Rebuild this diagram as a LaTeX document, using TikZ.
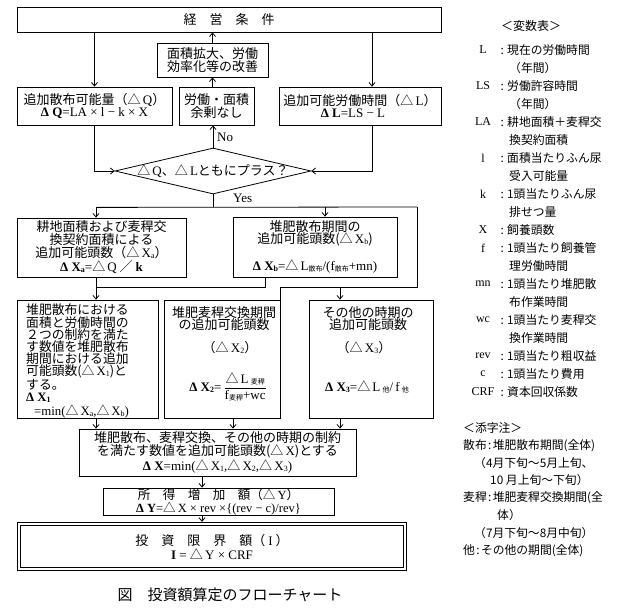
\documentclass[tikz,border=0pt]{standalone}
\usepackage{fontspec}
\setmainfont{Noto Sans CJK JP}
\newfontfamily\se{Liberation Serif}
\usetikzlibrary{arrows.meta,shapes.geometric}
\newcommand\sbx[1]{\raisebox{-1pt}{\fontsize{8}{8}\selectfont #1}}
\newcommand\sbj[1]{\raisebox{-1pt}{\fontsize{7}{7}\selectfont\rmfamily #1}}
\newcommand\tri{{\rmfamily △}}
\newcommand\col{\makebox[10pt][c]{:}}
\newcommand\scol{\makebox[6pt][c]{:}}
\tikzset{
 every node/.style={inner sep=0pt},
 box/.style={draw,line width=0.8pt,align=center,font=\fontsize{13}{12.5}\selectfont},
 dia/.style={draw,line width=0.8pt,diamond,minimum width=196pt,minimum height=46pt},
 con/.style={line width=0.8pt},
 arr/.style={line width=0.8pt,-{Straight Barb[length=3.5pt,width=6pt]}},
 txt/.style={font=\fontsize{13}{12.5}\selectfont,align=center},
 leg/.style={anchor=west,font=\fontsize{11.8}{12}\selectfont},
 lab/.style={font=\fontsize{12}{12}\selectfont\se},
}
\begin{document}
\begin{tikzpicture}[x=1pt,y=-1pt]
\useasboundingbox (0,0) rectangle (620,607);
% boxes
\node[box,minimum width=424pt,minimum height=25pt] (top) at (229,19.5) {経　営　条　件};
\node[box,minimum width=111pt,minimum height=34pt] (imp) at (212.5,60) {面積拡大、労働\\効率化等の改善};
\node[box,minimum width=155pt,minimum height=38pt] (dQ) at (94.5,106) {追加散布可能量（\tri\,{\se Q}）\\{\se\textbf{Δ Q}=LA × l − k × X}};
\node[box,minimum width=75pt,minimum height=38pt] (none) at (216.5,106) {労働・面積\\余剰なし};
\node[box,minimum width=162pt,minimum height=38pt] (dL) at (360,106) {追加可能労働時間（\tri\,{\se L}）\\{\se\textbf{Δ L}=LS − L}\hspace*{14pt}};
\node[dia] (dia) at (213,171) {};
\node[txt] (diat) at (dia.center) {\tri\,{\se Q}、\tri\,{\se L}ともにプラス？};
\node[box,minimum width=169pt,minimum height=59pt,font=\fontsize{13}{12.2}\selectfont] (xa) at (101.5,247.5) {耕地面積および麦稈交\\換契約面積による\\追加可能頭数（\tri\,{\se X\sbx{a}}）\\[1.5pt]{\se\textbf{Δ X\sbx{a}}=}\tri\,{\se Q} ／ {\se\textbf{k}}};
\node[box,minimum width=164pt,minimum height=60pt] (xb) at (315,247) {堆肥散布期間の\\追加可能頭数(\tri\,{\se X\sbx{b}})\\[12.5pt]{\se\textbf{Δ X\sbx{b}}=}\tri\,{\se L}\sbj{散布}{\se /(f}\sbj{散布}{\se +mn)}};
\node[box,minimum width=141pt,minimum height=118pt] (x1) at (87.5,359) {};
\node[txt,anchor=west,align=left,font=\fontsize{12.8}{12.1}\selectfont] (x1t) at (26,361) {堆肥散布における\\面積と労働時間の\\２つの制約を満た\\す数値を堆肥散布\\期間における追加\\可能頭数(\tri\,{\se X\sbx{1}})と\\する。\\{\se\textbf{Δ X\sbx{1}}}\\[1.8pt]\hspace*{8pt}{\se =min(}\tri\,{\se X\sbx{a},}\tri\,{\se X\sbx{b})}};
\node[box,minimum width=116pt,minimum height=118pt] (x2) at (222,359) {};
\node[txt] (x2h) at (224,318.5) {堆肥麦稈交換期間\\の追加可能頭数};
\node[txt] (x2m) at (230,348) {（\tri\,{\se X\sbx{2}}）};
\node[txt] (x2f) at (228,387) {{\se\textbf{Δ X\sbx{2}}=}\,\(\displaystyle\frac{\hbox{\tri\,{\se L}\,\sbj{麦稈}}}{\hbox{{\se f}\sbj{麦稈}{\se +wc}}}\)};
\node[box,minimum width=124pt,minimum height=118pt] (x3) at (371,359) {};
\node[txt] (x3h) at (368,318.5) {その他の時期の\\追加可能頭数};
\node[txt] (x3m) at (364,348) {（\tri\,{\se X\sbx{3}}）};
\node[txt] (x3f) at (367,387) {{\se\textbf{Δ X\sbx{3}}=}\tri\,{\se L}\,\sbj{他}{\se /\,f}\,\sbj{他}};
\node[box,minimum width=277pt,minimum height=47pt,font=\fontsize{13}{12}\selectfont] (x) at (217.5,452.5) {堆肥散布、麦稈交換、その他の時期の制約\\を満たす数値を追加可能頭数(\tri\,{\se X})とする\\{\se\textbf{Δ X}=min(}\tri\,{\se X\sbx{1},}\tri\,{\se X\sbx{2},}\tri\,{\se X\sbx{3})}};
\node[box,minimum width=231pt,minimum height=27pt,font=\fontsize{12.5}{13}\selectfont] (y) at (218.5,501.5) {所　得　増　加　額（\tri\,{\se Y}）\\{\se\textbf{Δ Y}=}\tri\,{\se X × rev ×\{(rev − c)/rev\}}};
\node[box,double,double distance=2pt,minimum width=386pt,minimum height=45pt,font=\fontsize{13}{14}\selectfont] (inv) at (212,546.5) {投　資　限　界　額（ {\se I} ）\\{\se\textbf{I} = }\tri\,{\se Y × CRF}};
\node[font=\fontsize{15}{15}\selectfont] (cap) at (230,595) {図　投資額算定のフローチャート};
% connectors
\draw[arr] (top.south -| dQ.north) -- (dQ.north);
\draw[arr] ([xshift=12pt]dL.north |- top.south) -- ([xshift=12pt]dL.north);
\draw[arr] (imp.north) -- (imp.north |- top.south);
\draw[arr] (imp.south |- none.north) -- (imp.south);
\draw[arr] (dia.north) -- (dia.north |- none.south);
\node[anchor=west,font=\fontsize{13}{13}\selectfont\se] (no) at (217,137) {No};
\draw[arr] (dQ.south) |- (dia.west);
\draw[arr] ([xshift=12pt]dL.south) |- (dia.east);
\draw[con] (dia.south) -- ++(0,13) coordinate (ysplit);
\node[anchor=west,font=\fontsize{13}{13}\selectfont\se] (yes) at (233,198) {Yes};
\coordinate (rc) at (417,207);
\coordinate (rc2) at (417,287);
\draw[con] ([xshift=-5.5pt]xa.north |- ysplit) -- (rc);
\draw[arr] ([xshift=-5.5pt]xa.north |- ysplit) -- ([xshift=-5.5pt]xa.north);
\draw[arr] ([xshift=10pt]xb.north |- ysplit) -- ([xshift=10pt]xb.north);
\draw[con] (rc) -- (rc2) -- (rc2 -| x2.north east) -- (x2.north east);
\draw[arr] ([xshift=-31pt]x3.north |- rc2) -- ([xshift=-31pt]x3.north);
\coordinate (m2) at ([xshift=-5.5pt]xa.south |- rc2);
\draw[con] ([xshift=-50pt]xb.south) |- (m2);
\draw[arr] ([xshift=-5.5pt]xa.south) -- (m2 |- x1.north);
\draw[arr] ([xshift=8.5pt]x1.south) -- ([xshift=8.5pt]x1.south |- x.north);
\draw[arr] ([xshift=11pt]x2.south) -- ([xshift=11pt]x2.south |- x.north);
\draw[arr] ([xshift=-31pt]x3.south) -- ([xshift=-31pt]x3.south |- x.north);
\draw[arr] ([xshift=-15.5pt]x.south) -- ([xshift=-15.5pt]x.south |- y.north);
\draw[arr] ([xshift=-16.5pt]y.south) -- ([xshift=-16.5pt,yshift=1.8pt]y.south |- inv.north);
% legend
\node[font=\fontsize{12}{12}\selectfont] (vt) at (531,26) {＜変数表＞};
\foreach \l/\t/\r [count=\k] in {L/現在の労働時間/0, LS/労働許容時間/2, LA/耕地面積＋麦稈交/4, l/面積当たりふん尿/6, k/1頭当たりふん尿/8, X/飼養頭数/10, f/1頭当たり飼養管/11, mn/1頭当たり堆肥散/13, wc/1頭当たり麦稈交/15, rev/1頭当たり粗収益/17, c/1頭当たり費用/18, CRF/資本回収係数/19}{
  \node[lab] (vl\k) at (483,50+18*\r) {\l};
  \node[leg] (vx\k) at (497,50+18*\r) {\col\t};
}
\foreach \t/\r [count=\k] in {（年間）/1, （年間）/3, 換契約面積/5, 受入可能量/7, 排せつ量/9, 理労働時間/12, 布作業時間/14, 換作業時間/16}{
  \node[leg] (vc\k) at (509,50+18*\r) {\t};
}
\node[leg] (s0) at (463,428) {＜添字注＞};
\node[leg] (s1) at (463,445.5) {散布\scol 堆肥散布期間(全体)};
\node[leg] (s2) at (474,463) {（4月下旬～5月上旬、};
\node[leg] (s3) at (490,480.5) {10 月上旬～下旬）};
\node[leg] (s4) at (463,498) {麦稈\scol 堆肥麦稈交換期間(全};
\node[leg] (s5) at (497,515.5) {体）};
\node[leg] (s6) at (474,533) {（7月下旬～8月中旬）};
\node[leg] (s7) at (463,550.5) {他\scol その他の期間(全体)};
\end{tikzpicture}
\end{document}
